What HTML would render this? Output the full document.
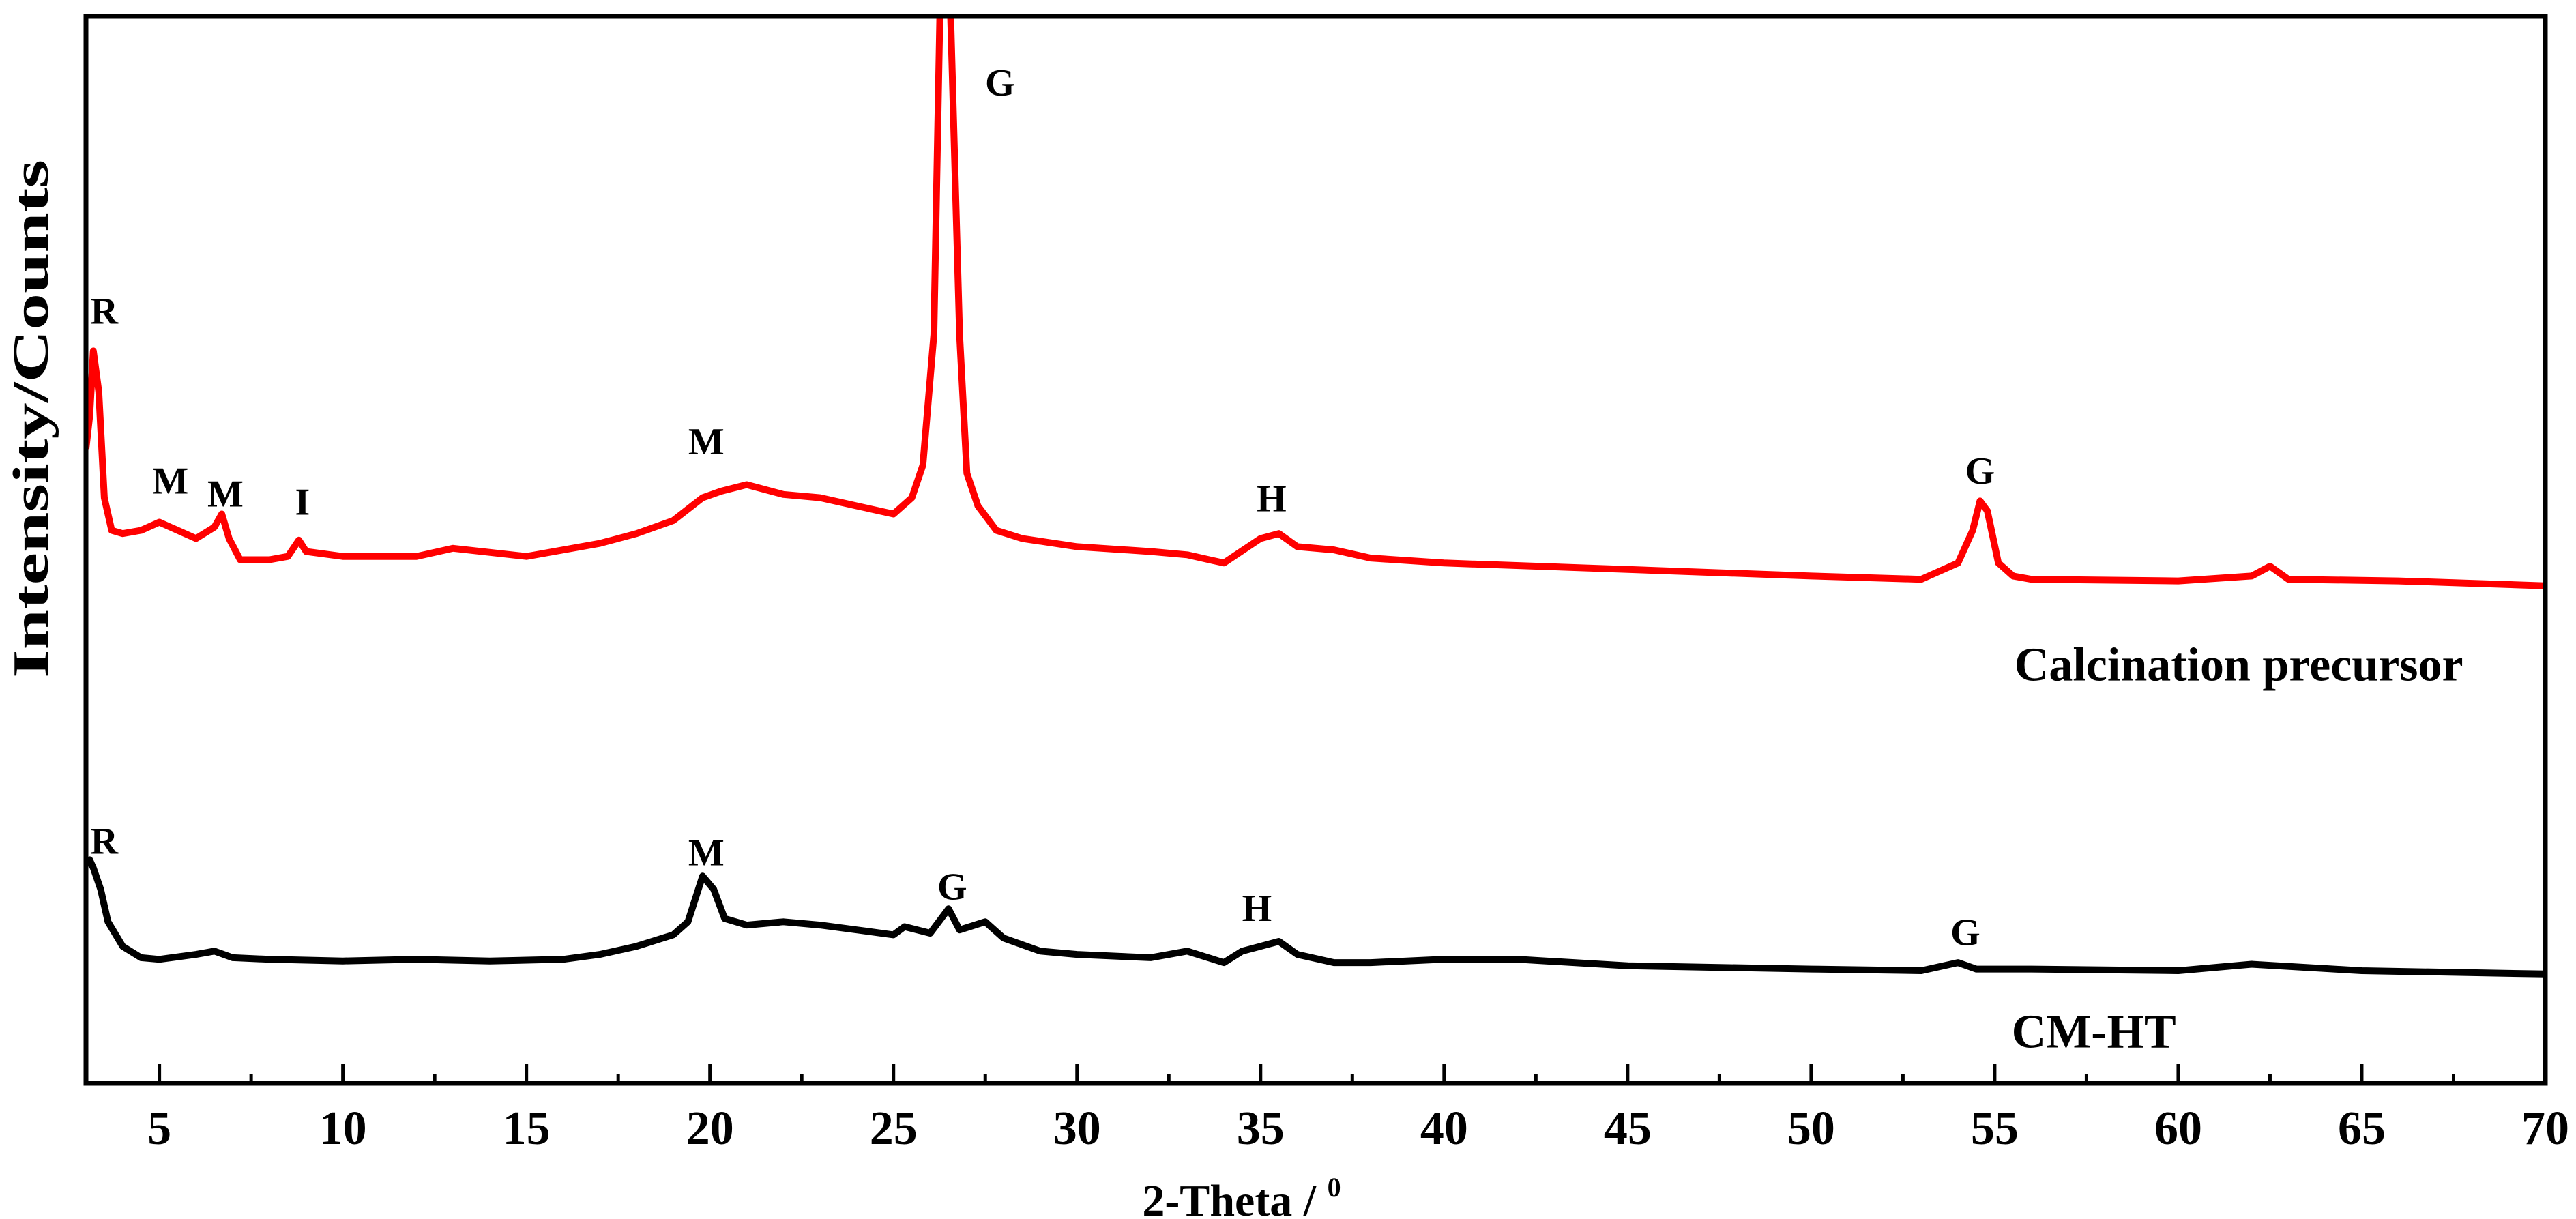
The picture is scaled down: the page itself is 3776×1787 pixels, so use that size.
<!DOCTYPE html>
<html><head><meta charset="utf-8"><style>
html,body{margin:0;padding:0;background:#fff;}
svg{display:block;}
text{font-family:"Liberation Serif",serif;font-weight:bold;fill:#000;}
</style></head><body>
<svg id="chart" width="3776" height="1787" viewBox="0 0 3776 1787" xmlns="http://www.w3.org/2000/svg">
<defs><clipPath id="plotclip"><rect x="126" y="24" width="3605" height="1564"/></clipPath></defs>
<g id="series" clip-path="url(#plotclip)"></g>
<g id="axes"></g>
<g id="labels"></g>
<text x="0" y="0" font-size="74" text-anchor="middle" textLength="760" lengthAdjust="spacingAndGlyphs" transform="translate(70,614) rotate(-90)">Intensity/Counts</text>
<text x="1820" y="1782" font-size="66" text-anchor="middle">2-Theta / <tspan font-size="40" dy="-28">0</tspan></text>
</svg>
<script>
const precursorX = [3.0,3.1,3.2,3.35,3.5,3.7,4.0,4.5,5.0,5.5,6.0,6.5,6.7,6.9,7.2,8.0,8.5,8.8,9.0,10,12,13,15,17,18,19,19.8,20.3,21,22,23,24,25,25.5,25.8,26.1,26.3,26.5,26.8,27.0,27.3,27.8,28.5,30,32,33,34,35,35.5,36,37,38,40,45,50,53,54,54.4,54.6,54.8,55.1,55.5,56,60,62,62.5,63,66,70];
const precursorY = [389,409,449,424,359,339,337,339,344,339,334,341,349,334,321,321,323,333,326,323,323,328,323,331,337,345,359,363,367,361,359,354,349,359,379,459,700,700,459,374,354,339,334,329,326,324,319,334,337,329,327,322,319,315,311,309,319,339,357,351,319,311,309,308,311,317,309,308,305];
const cmhtX = [3.0,3.1,3.2,3.4,3.6,4.0,4.5,5,6,6.5,7,8,10,12,14,16,17,18,19,19.4,19.8,20.1,20.4,21,22,23,24,25,25.3,26,26.5,26.8,27.5,28,29,30,32,33,34,34.5,35,35.5,36,37,38,40,42,45,50,53,54,54.5,56,60,62,65,70];
const cmhtY = [134,137,132,119,99,84,77,76,79,81,77,76,75,76,75,76,79,84,91,99,127,119,101,97,99,97,94,91,96,92,107,94,99,89,81,79,77,81,74,81,84,87,79,74,74,76,76,72,70,69,74,70,70,69,73,69,67];
const xTicks = [5,10,15,20,25,30,35,40,45,50,55,60,65,70];
const annoText = ["R","M","M","I","M","G","H","G","R","M","G","H","G"];
const annoX = [3.5,5.3,6.8,8.9,19.9,27.9,35.3,54.6,3.5,19.9,26.6,34.9,54.2];
const annoY = [474,370,362,357,394,614,359,376,149,142,121,108,93];
const seriesLabels = ["Calcination precursor","CM-HT"];
const seriesLabelX = [61.65,57.7];
const seriesLabelY = [257,32];

const X0=126,X1=3731,Y0=24,Y1=1588,XMIN=3,XMAX=70,PPC=2.391;
const sx = v => X0 + (v-XMIN)*(X1-X0)/(XMAX-XMIN);
const sy = c => Y1 - c*PPC;
const NS="http://www.w3.org/2000/svg";
const mk=(t,a,p)=>{const e=document.createElementNS(NS,t);for(const k in a)e.setAttribute(k,a[k]);p.appendChild(e);return e;};

const gS=document.getElementById('series');
function line(xs,ys,color,name){
  const d=xs.map((x,i)=>(i?'L':'M')+sx(x).toFixed(1)+','+sy(ys[i]).toFixed(1)).join('');
  const p=mk('path',{d:d,fill:'none',stroke:color,'stroke-width':10,'stroke-linejoin':'round'},gS);
  
  
}
line(precursorX,precursorY,'#ff0000','precursor-trace');
line(cmhtX,cmhtY,'#000000','cm-ht-trace');

const gA=document.getElementById('axes');
const frame=mk('rect',{x:X0,y:Y0,width:X1-X0,height:Y1-Y0,fill:'none',stroke:'#000','stroke-width':7},gA);


for(let v=5;v<70;v+=2.5){
  const major=(v%5===0);
  const t=mk('line',{x1:sx(v),x2:sx(v),y1:Y1,y2:Y1-(major?28:14),stroke:'#000','stroke-width':5},gA);
  
  
}
xTicks.forEach(v=>{
  const t=mk('text',{x:sx(v),y:1677,'font-size':70,'text-anchor':'middle'},gA);
  t.textContent=v;
  
  
});

const gL=document.getElementById('labels');
annoText.forEach((s,i)=>{
  const t=mk('text',{x:sx(annoX[i]),y:sy(annoY[i])+20,'font-size':56,'text-anchor':'middle'},gL);
  t.textContent=s;
  
  
});
seriesLabels.forEach((s,i)=>{
  const t=mk('text',{x:sx(seriesLabelX[i]),y:sy(seriesLabelY[i])+24,'font-size':70,'text-anchor':'middle'},gL);
  t.textContent=s;
  
  
});
</script>
</body></html>
